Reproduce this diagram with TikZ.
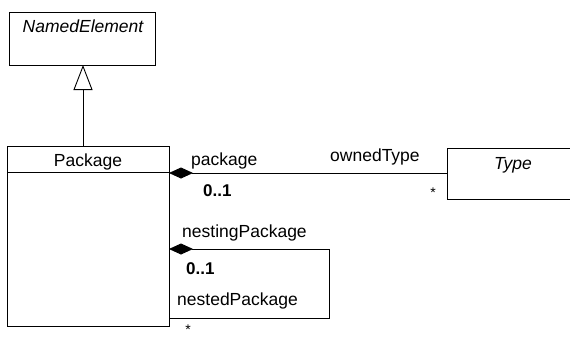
\documentclass[tikz,border=0pt]{standalone}
\usepackage{fontspec}
\setmainfont{Liberation Sans}
\usetikzlibrary{arrows.meta}
\begin{document}
\begin{tikzpicture}[x=1pt,y=-1pt,
  box/.style={draw=black,line width=0.9pt,inner sep=0pt,anchor=north west},
  lbl/.style={inner sep=0pt,anchor=base west,font=\fontsize{17.5pt}{20pt}\selectfont},
  blbl/.style={lbl,font=\fontsize{17pt}{20pt}\selectfont\bfseries},
  conn/.style={draw=black,line width=0.9pt},
  comp/.style={conn,{Diamond[length=24pt,width=11pt,fill=black]}-}]
\useasboundingbox (0,0) rectangle (570,337);
\fill[white] (0,0) rectangle (570,337);
\begin{scope}
\clip (0,0) rectangle (570,337);
% NamedElement
\node[box,minimum width=146pt,minimum height=53pt] (ne) at (9,12) {};
\node[lbl,anchor=base,font=\fontsize{17.5pt}{20pt}\selectfont\itshape] (netxt) at (83,33) {NamedElement};
% Package
\node[box,minimum width=162pt,minimum height=26pt] (pkghead) at (7,146) {};
\node[lbl,anchor=base] (pkgtxt) at (88,166) {Package};
\node[box,minimum width=162pt,minimum height=154pt] (pkgbody) at (7,172) {};
% Type
\node[box,minimum width=133pt,minimum height=51pt] (type) at (447,148) {};
\node[lbl,anchor=base,font=\fontsize{17.5pt}{20pt}\selectfont\itshape] (typetxt) at (513,169) {Type};
% generalization
\coordinate (gtop) at (83,65);
\coordinate (gbot) at (83,146);
\draw[conn,-{Triangle[open,length=25pt,width=19pt,fill=white]}] (gbot) -- (gtop);
% association package - ownedType
\coordinate (a1) at (169,173);
\coordinate (a2) at (447,173);
\draw[comp] (a1) -- (a2);
\node[lbl] (lpkg) at (191,165) {package};
\node[lbl] (lown) at (330,161) {ownedType};
\node[blbl] (m1) at (203,196) {0..1};
\node[lbl,anchor=center,font=\fontsize{14pt}{16pt}\selectfont] (s1) at (433,193) {*};
% self association
\coordinate (b1) at (169,249);
\coordinate (b2) at (329,249);
\coordinate (b3) at (329,318);
\coordinate (b4) at (169,318);
\draw[comp] (b1) -- (b2) -- (b3) -- (b4);
\node[lbl] (lnest) at (182,237) {nestingPackage};
\node[blbl] (m2) at (186,274) {0..1};
\node[lbl] (lnested) at (177,305) {nestedPackage};
\node[lbl,anchor=center,font=\fontsize{14pt}{16pt}\selectfont] (s2) at (188,330) {*};
\end{scope}
\end{tikzpicture}
\end{document}
